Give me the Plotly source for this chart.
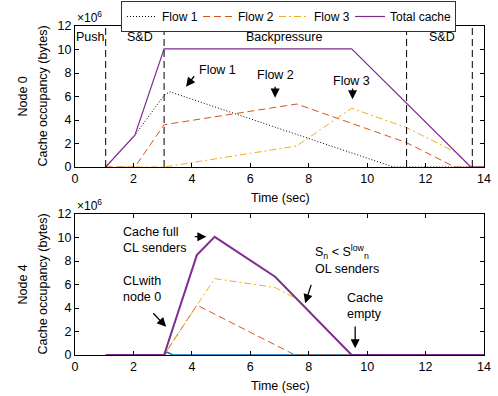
import plotly.graph_objects as go

# ---------------- data (Node 0, top) ----------------
n0_flow1_t = [1.05, 2.05, 3.05, 3.25, 10.9, 14]
n0_flow1_v = [0, 2.7, 6.1, 6.4, 0, 0]
n0_flow2_t = [1.05, 2.05, 3.05, 7.59, 11.35, 13.0, 14]
n0_flow2_v = [0, 0, 3.6, 5.36, 2.07, 0, 0]
n0_flow3_t = [1.05, 3.05, 7.59, 9.47, 11.35, 13.0, 13.55, 14]
n0_flow3_v = [0, 0, 1.79, 5.0, 3.35, 1.3, 0, 0]
n0_total_t = [1.05, 2.05, 3.05, 9.47, 13.55, 14]
n0_total_v = [0, 2.7, 10.05, 10.05, 0, 0]

phase_bounds = [1.05, 3.05, 11.35, 13.6]
phase_labels = ["Push", "S&D", "Backpressure", "S&D"]
phase_label_t = [0.53, 2.22, 7.14, 12.57]

# ---------------- data (Node 4, bottom) ----------------
n4_flow1_t = [1.05, 3.05, 3.15, 3.35, 14]
n4_flow1_v = [0, 0, 0.25, 0, 0]
n4_flow2_t = [1.05, 3.05, 4.17, 7.53, 14]
n4_flow2_v = [0, 0, 4.25, 0, 0]
n4_flow3_t = [1.05, 3.05, 4.78, 6.85, 7.53, 9.47, 14]
n4_flow3_v = [0, 0, 6.5, 5.75, 4.85, 0, 0]
n4_total_t = [1.05, 3.05, 4.17, 4.78, 6.85, 9.47, 14]
n4_total_v = [0, 0, 8.5, 10.05, 6.66, 0, 0]

x_ticks = [0, 2, 4, 6, 8, 10, 12, 14]
y_ticks = [0, 2, 4, 6, 8, 10, 12]

C_F2 = "#D95319"
C_F3 = "#EDB120"
C_TOT = "#7E2F8E"
C_BLUE = "#0072BD"
FONT = "Liberation Sans, Arial, sans-serif"

fig = go.Figure()

# top
fig.add_trace(go.Scatter(x=n0_flow1_t, y=n0_flow1_v, mode="lines", name="Flow 1", legendwidth=31,
                         line=dict(color="black", width=1, dash="1px,2px"), xaxis="x", yaxis="y"))
fig.add_trace(go.Scatter(x=n0_flow2_t, y=n0_flow2_v, mode="lines", name="Flow 2", legendwidth=31,
                         line=dict(color=C_F2, width=1, dash="7px,4px"), xaxis="x", yaxis="y"))
fig.add_trace(go.Scatter(x=n0_flow3_t, y=n0_flow3_v, mode="lines", name="Flow 3", legendwidth=31,
                         line=dict(color=C_F3, width=1, dash="7px,3px,2px,3px"), xaxis="x", yaxis="y"))
fig.add_trace(go.Scatter(x=n0_total_t, y=n0_total_v, mode="lines", name="Total cache", legendwidth=60,
                         line=dict(color=C_TOT, width=1.2), xaxis="x", yaxis="y"))

# bottom
fig.add_trace(go.Scatter(x=n4_flow1_t, y=n4_flow1_v, mode="lines", showlegend=False,
                         line=dict(color=C_BLUE, width=1.5), xaxis="x2", yaxis="y2"))
fig.add_trace(go.Scatter(x=n4_flow2_t, y=n4_flow2_v, mode="lines", showlegend=False,
                         line=dict(color=C_F2, width=1, dash="7px,4px"), xaxis="x2", yaxis="y2"))
fig.add_trace(go.Scatter(x=n4_flow3_t, y=n4_flow3_v, mode="lines", showlegend=False,
                         line=dict(color=C_F3, width=1, dash="7px,3px,2px,3px"), xaxis="x2", yaxis="y2"))
fig.add_trace(go.Scatter(x=n4_total_t, y=n4_total_v, mode="lines", showlegend=False,
                         line=dict(color=C_TOT, width=2), xaxis="x2", yaxis="y2"))

# phase boundaries
for b in phase_bounds:
    fig.add_shape(type="line", xref="x", yref="y", x0=b, x1=b, y0=0, y1=12,
                  line=dict(color="black", width=1, dash="7px,4px"))

annots = []
for lab, t in zip(phase_labels, phase_label_t):
    annots.append(dict(x=t, y=11.05, xref="x", yref="y", text=lab, showarrow=False,
                       xanchor="center", yanchor="middle",
                       font=dict(size=12.5, color="black", family=FONT)))

def arrow(xr, yr, tail, tip):
    return dict(x=tip[0], y=tip[1], ax=tail[0], ay=tail[1], xref=xr, yref=yr, axref=xr, ayref=yr,
                text="", showarrow=True, arrowhead=2, arrowsize=1.4, arrowwidth=1.3, arrowcolor="black",
                standoff=0, startstandoff=0)

def label(xr, yr, x, y, text, xanchor="center", align="center"):
    return dict(x=x, y=y, xref=xr, yref=yr, text=text, showarrow=False, xanchor=xanchor, align=align,
                yanchor="middle", font=dict(size=12.5, color="black", family=FONT))

# top annotations
annots += [
    label("x", "y", 4.88, 8.26, "Flow 1"),
    arrow("x", "y", (4.12, 7.85), (3.8, 6.83)),
    label("x", "y", 6.85, 7.83, "Flow 2"),
    arrow("x", "y", (6.85, 6.95), (6.85, 5.9)),
    label("x", "y", 9.47, 7.32, "Flow 3"),
    arrow("x", "y", (9.5, 6.8), (9.5, 5.76)),
]
# bottom annotations
annots += [
    label("x2", "y2", 1.575, 9.81, "Cache full<br>CL senders", xanchor="left", align="left"),
    arrow("x2", "y2", (4.05, 10.07), (4.5, 10.07)),
    label("x2", "y2", 1.575, 5.63, "CLwith<br>node 0", xanchor="left", align="left"),
    arrow("x2", "y2", (2.63, 3.68), (3.12, 2.4)),
    label("x2", "y2", 8.16, 8.1, "S<sub>n</sub> &lt; S<sup>low</sup><sub>n</sub><br>OL senders",
          xanchor="left", align="left"),
    arrow("x2", "y2", (8.1, 6.1), (7.88, 4.4)),
    label("x2", "y2", 9.25, 4.13, "Cache<br>empty", xanchor="left", align="left"),
    arrow("x2", "y2", (9.59, 2.55), (9.59, 0.57)),
]

# axis titles and exponent labels
H = 329.0
W = 409.0
def py(px):
    return (355 - px) / H
def px_(px):
    return (px - 75) / W

for ycen, node in [(py(96.5), "Node 0"), (py(284.5), "Node 4")]:
    annots.append(dict(x=px_(22), y=ycen, xref="paper", yref="paper", text=node, textangle=-90,
                       xanchor="center", yanchor="middle",
                       showarrow=False, font=dict(size=12.5, color="black", family=FONT)))
    annots.append(dict(x=px_(42), y=ycen, xref="paper", yref="paper", text="Cache occupancy (bytes)",
                       textangle=-90, xanchor="center", yanchor="middle",
                       showarrow=False, font=dict(size=12.5, color="black", family=FONT)))
for yy in [py(198), py(386)]:
    annots.append(dict(x=px_(280), y=yy, xref="paper", yref="paper", text="Time (sec)",
                       xanchor="center", yanchor="middle",
                       showarrow=False, font=dict(size=12.5, color="black", family=FONT)))
for yy in [py(17), py(205)]:
    annots.append(dict(x=0, y=yy, xref="paper", yref="paper", text="×10<sup>6</sup>", xanchor="left",
                       yanchor="middle", showarrow=False, font=dict(size=12, color="black", family=FONT)))

axis_common = dict(range=[0, 14], tickvals=x_ticks, ticks="inside", ticklen=4, tickcolor="black",
                   showline=True, linecolor="black", linewidth=1, mirror="allticks", showgrid=False,
                   zeroline=False, tickfont=dict(size=12.5, color="black", family=FONT))
yaxis_common = dict(range=[0, 12], tickvals=y_ticks, ticks="inside", ticklen=4, tickcolor="black",
                    showline=True, linecolor="black", linewidth=1, mirror="allticks", showgrid=False,
                    zeroline=False, tickfont=dict(size=12.5, color="black", family=FONT))

fig.update_layout(
    width=498, height=396,
    margin=dict(l=75, r=14, t=26, b=41, autoexpand=False),
    paper_bgcolor="white", plot_bgcolor="white",
    font=dict(family=FONT, size=12, color="black"),
    xaxis=dict(domain=[0, 1], anchor="y", **axis_common),
    yaxis=dict(domain=[py(167), 1.0], anchor="x", **yaxis_common),
    xaxis2=dict(domain=[0, 1], anchor="y2", **axis_common),
    yaxis2=dict(domain=[0, py(214)], anchor="x2", **yaxis_common),
    legend=dict(orientation="h", x=px_(288.5), xanchor="center", y=py(1), yanchor="top",
                bgcolor="white", bordercolor="#333333", borderwidth=1,
                font=dict(size=12, family=FONT, color="black"), itemwidth=30,
                tracegroupgap=0),
    annotations=annots,
    showlegend=True,
)

fig.write_html("out.html")
